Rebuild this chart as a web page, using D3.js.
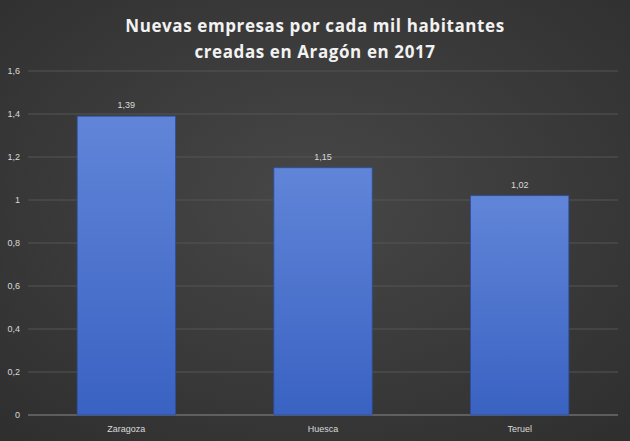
<!DOCTYPE html>
<html><head><meta charset="utf-8">
<script src="https://cdn.jsdelivr.net/npm/d3@7"></script>
<style>body{margin:0;background:#3a3a3a}</style></head>
<body><div id="canvas"></div>
<script>
const categories = ["Zaragoza", "Huesca", "Teruel"];
const values = [1.39, 1.15, 1.02];
const ticks = [0, 0.2, 0.4, 0.6, 0.8, 1, 1.2, 1.4, 1.6];
const titleLines = ["Nuevas empresas por cada mil habitantes", "creadas en Aragón en 2017"];

const W = 630, H = 441;
const svg = d3.select("#canvas").append("svg").attr("width", W).attr("height", H);
const defs = svg.append("defs");

// background vignette
const bg = defs.append("radialGradient").attr("id", "bg").attr("cx", "50%").attr("cy", "45%").attr("r", "75%");
bg.append("stop").attr("offset", "0%").attr("stop-color", "#474747");
bg.append("stop").attr("offset", "100%").attr("stop-color", "#2e2e2e");
svg.append("rect").attr("width", W).attr("height", H).attr("fill", "url(#bg)");

const barGrad = defs.append("linearGradient").attr("id", "bar").attr("x1", 0).attr("y1", 0).attr("x2", 0).attr("y2", 1);
barGrad.append("stop").attr("offset", "0%").attr("stop-color", "#6085d8");
barGrad.append("stop").attr("offset", "100%").attr("stop-color", "#3a62c2");

const x = d3.scaleBand().domain(categories).range([28, 618]).paddingInner(0.5).paddingOuter(0.25);
const y = d3.scaleLinear().domain([0, 1.6]).range([415, 71]);
const fmt = d => String(d).replace(".", ",");

// grid
svg.append("g").selectAll("line").data(ticks).join("line")
    .attr("x1", 28).attr("x2", 618)
    .attr("y1", d => y(d)).attr("y2", d => y(d))
    .attr("stroke", d => d === 0 ? "#8a8a8a" : "#555").attr("stroke-width", 1);

svg.append("g").selectAll("text").data(ticks).join("text")
    .attr("x", 20).attr("y", d => y(d) + 3)
    .attr("text-anchor", "end").attr("fill", "#d9d9d9")
    .style("font", "9px 'Liberation Sans', Arial, sans-serif")
    .text(fmt);

// bars
svg.append("g").selectAll("rect").data(values).join("rect")
    .attr("x", (d, i) => x(categories[i])).attr("width", x.bandwidth())
    .attr("y", d => y(d)).attr("height", d => y(0) - y(d))
    .attr("fill", "url(#bar)").attr("stroke", "#2d4f9e").attr("stroke-width", 0.8);

svg.append("g").selectAll("text").data(values).join("text")
    .attr("x", (d, i) => x(categories[i]) + x.bandwidth() / 2).attr("y", d => y(d) - 8)
    .attr("text-anchor", "middle").attr("fill", "#d9d9d9")
    .style("font", "9px 'Liberation Sans', Arial, sans-serif")
    .text(fmt);

// x labels
svg.append("g").selectAll("text").data(categories).join("text")
    .attr("x", d => x(d) + x.bandwidth() / 2).attr("y", 432)
    .attr("text-anchor", "middle").attr("fill", "#d9d9d9")
    .style("font", "9px 'Liberation Sans', Arial, sans-serif")
    .text(d => d);

// title
svg.append("g").selectAll("text").data(titleLines).join("text")
    .attr("x", W / 2).attr("y", (d, i) => 32 + i * 26)
    .attr("text-anchor", "middle").attr("fill", "#f2f2f2")
    .style("font", "bold 17px 'Open Sans', 'DejaVu Sans', sans-serif")
    .style("letter-spacing", "0.6px")
    .text(d => d);
</script></body></html>
